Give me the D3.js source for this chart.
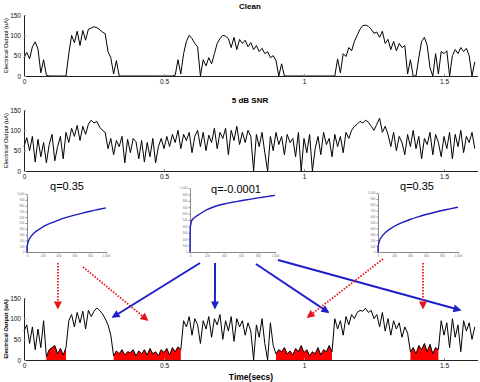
<!DOCTYPE html>
<html>
<head>
<meta charset="UTF-8">
<script src="https://d3js.org/d3.v7.min.js"></script>
<style>
body { margin: 0; background: #fff; }
text { font-family: Arial, "Liberation Sans", sans-serif; }
</style>
</head>
<body>
<svg id="canvas"></svg>
<script>

width = 480;
height = 382;

// one sample every 10 ms
dt = 0.01;

clean = [45,58,42,72,84,66,8,40,2,0, 0,0,0,0,0,0,55,100,82,110,
         75,112,88,115,118,121,119,114,108,104, 60,45,5,38,0,0,0,0,0,0,
         0,0,0,0,0,0,0,0,0,0, 0,0,0,0,2,40,5,55,85,100,
         92,80,72,0,40,25,45,30,55,80, 92,100,98,92,70,95,65,90,80,88,
         72,82,65,75,60,68,55,60,45,50, 38,0,30,0,0,0,0,0,0,0,
         0,0,0,0,0,0,0,0,0,0, 0,0,42,8,55,48,70,62,85,100,
         115,124,125,122,115,105,108,95,110,80, 90,65,85,62,80,70,75,5,40,0,
         0,45,85,95,75,20,0,55,5,60, 55,62,0,50,65,55,70,60,68,50,
         0,35];

noisy = [60,82,50,85,22,78,35,70,20,65, 90,25,60,85,30,95,70,105,85,112,
         75,110,90,115,125,118,122,108,100,95, 55,80,40,75,60,85,20,78,45,80,
         72,30,75,22,70,35,80,20,60,80, 55,85,60,90,70,100,55,90,75,95,
         45,85,100,60,95,50,88,70,105,55, 95,80,105,40,100,75,110,65,95,70,
         100,85,0,90,60,95,45,0,85,50, 95,65,85,40,90,70,80,35,95,0,
         80,45,90,0,55,85,40,95,65,80, 35,90,60,85,45,95,80,100,110,115,
         122,118,125,120,110,100,115,130,95,110, 90,60,95,50,85,70,40,90,60,100,
         55,85,30,80,65,95,40,90,70,35, 85,55,95,30,90,60,100,45,85,70,
         95,55];

enhanced = [70,85,40,80,25,75,30,95,8,25, 30,35,15,28,12,30,95,110,80,115,
            90,118,75,120,105,118,126,120,112,100, 85,60,10,22,15,25,12,20,18,25,
            10,22,15,25,12,28,15,20,10,25, 18,28,12,30,20,32,25,95,80,105,
            60,100,85,40,95,75,105,55,100,85, 110,50,95,70,105,45,100,80,95,60,
            90,70,0,85,55,100,40,0,90,35, 15,25,20,30,15,22,12,28,20,35,
            18,25,10,20,15,30,12,25,20,35, 20,100,75,95,60,105,85,110,100,115,
            120,118,125,115,120,100,110,80,115,70, 100,60,95,75,90,55,80,65,20,30,
            15,35,25,40,20,38,15,30,25,95, 60,90,30,100,55,85,20,95,70,90,
            50,80];

// stretches (secs) where the enhanced output was pushed down, shown in red
suppressed = [[0.08, 0.15], [0.32, 0.56], [0.90, 1.10], [1.38, 1.48]];

xTicks = [0, 0.5, 1, 1.5];
yTicks = [0, 50, 100, 150];

// compression curves, input 0..1000 -> output
curveIn = [0, 1, 5, 20, 50, 100, 200, 300, 400, 500, 600, 700, 800, 900, 1000];
q035 = [0, 68, 119, 193, 266, 339, 432, 498, 551, 596, 635, 670, 703, 732, 760];
q0001 = [0, 260, 400, 490, 535, 580, 661, 715, 750, 778, 800, 823, 845, 865, 885];
curveYTicks = d3.range(0, 1001, 100);
curveXTicks = d3.range(0, 1001, 200);

canvas = d3.select("#canvas")
    .attr("width", width)
    .attr("height", height);

x = d3.scaleLinear().domain([0, 1.62]).range([24, 477.6]);

panels = [
    {vals: clean, top: 15, bottom: 76, title: "Clean", titleY: 8.5, bold: false},
    {vals: noisy, top: 110, bottom: 171, title: "5 dB SNR", titleY: 102.5, bold: false},
    {vals: enhanced, top: 298, bottom: 360, title: null, bold: true, fills: suppressed}
];

panels.forEach(function(p) {
    y = d3.scaleLinear().domain([0, 150]).range([p.bottom, p.top]);
    p.y = y;
    g = canvas.append("g");

    if (p.fills) {
        p.fills.forEach(function(f) {
            i0 = Math.round(f[0] / dt);
            i1 = Math.round(f[1] / dt);
            seg = d3.range(i0, i1 + 1);
            g.append("path")
                .attr("d", d3.area()
                    .x(i => x(i * dt))
                    .y0(y(0))
                    .y1(i => y(p.vals[i]))(seg))
                .attr("fill", "#ff0000");
        });
    }

    g.append("path")
        .attr("d", d3.line().x((d, i) => x(i * dt)).y(d => y(d))(p.vals))
        .attr("fill", "none")
        .attr("stroke", "#000")
        .attr("stroke-width", 1);

    xa = g.append("g")
        .attr("transform", "translate(0," + p.bottom + ")")
        .call(d3.axisBottom(x).tickValues(xTicks).tickFormat(d3.format(""))
            .tickSize(-2).tickSizeOuter(0).tickPadding(3));
    ya = g.append("g")
        .attr("transform", "translate(24,0)")
        .call(d3.axisLeft(y).tickValues(yTicks).tickSize(-2).tickSizeOuter(0).tickPadding(3));
    [xa, ya].forEach(function(a) {
        a.select(".domain").attr("stroke", "#222");
        a.selectAll(".tick line").attr("stroke", "#999");
        a.selectAll("text").attr("font-size", 6.5).attr("fill", "#111")
            .attr("font-family", "Arial, 'Liberation Sans', sans-serif");
    });

    g.append("text")
        .attr("transform", "translate(8," + (p.top + p.bottom) / 2 + ") rotate(-90)")
        .attr("text-anchor", "middle")
        .attr("font-size", 5.8)
        .attr("font-weight", p.bold ? "bold" : "normal")
        .text("Electrical Output (uA)");

    if (p.title) {
        g.append("text")
            .attr("x", 250).attr("y", p.titleY)
            .attr("text-anchor", "middle")
            .attr("font-size", 8)
            .attr("font-weight", "bold")
            .text(p.title);
    }
});

canvas.append("text")
    .attr("x", 251).attr("y", 380)
    .attr("text-anchor", "middle")
    .attr("font-size", 8.5)
    .attr("font-weight", "bold")
    .text("Time(secs)");

// compression curve insets
small = [
    {vals: q035, label: "q=0.35", left: 27, right: 106, top: 194, bottom: 252, lx: 67, ly: 190},
    {vals: q0001, label: "q=-0.0001", left: 190, right: 275, top: 188, bottom: 252, lx: 236, ly: 193},
    {vals: q035, label: "q=0.35", left: 378, right: 458, top: 193, bottom: 252, lx: 417, ly: 189.5}
];

small.forEach(function(s) {
    s.x = d3.scaleLinear().domain([0, 1000]).range([s.left, s.right]);
    s.y = d3.scaleLinear().domain([0, 1000]).range([s.bottom, s.top]);
    g = canvas.append("g");
    xa = g.append("g").attr("transform", "translate(0," + s.bottom + ")")
        .call(d3.axisBottom(s.x).tickValues(curveXTicks).tickSize(1.5).tickSizeOuter(0).tickPadding(1));
    ya = g.append("g").attr("transform", "translate(" + s.left + ",0)")
        .call(d3.axisLeft(s.y).tickValues(curveYTicks).tickSize(1.5).tickSizeOuter(0).tickPadding(1));
    [xa, ya].forEach(function(a) {
        a.select(".domain").attr("stroke", "#888");
        a.selectAll(".tick line").attr("stroke", "#888");
        a.selectAll("text").attr("font-size", 3).attr("fill", "#777");
    });
    g.append("path")
        .attr("d", d3.line().curve(d3.curveMonotoneX)
            .x((d, i) => s.x(curveIn[i])).y(d => s.y(d))(s.vals))
        .attr("fill", "none")
        .attr("stroke", "#1c1cc0")
        .attr("stroke-width", 1.4);
    g.append("text")
        .attr("x", s.lx).attr("y", s.ly)
        .attr("text-anchor", "middle")
        .attr("font-size", 11)
        .text(s.label);
});

// arrows: start under an inset (input value, px below its axis), end at (secs, uA) on the bottom panel
colors = {blue: "#1f1fcc", red: "#e8141c"};
defs = canvas.append("defs");
Object.keys(colors).forEach(function(k) {
    defs.append("marker")
        .attr("id", "head-" + k)
        .attr("viewBox", "0 0 10 10")
        .attr("refX", 8).attr("refY", 5)
        .attr("markerWidth", 9).attr("markerHeight", 8)
        .attr("markerUnits", "userSpaceOnUse")
        .attr("orient", "auto")
        .append("path")
        .attr("d", "M0,0L10,5L0,10z")
        .attr("fill", colors[k]);
});

arrows = [
    {from: 0, at: 392, below: 11, t: 0.121, v: 126, c: "red"},
    {from: 0, at: 709, below: 15, t: 0.44, v: 97, c: "red"},
    {from: 1, at: 118, below: 11, t: 0.318, v: 104, c: "blue"},
    {from: 1, at: 294, below: 11, t: 0.682, v: 126, c: "blue"},
    {from: 1, at: 776, below: 12, t: 1.086, v: 116, c: "blue"},
    {from: 1, at: 1035, below: 8, t: 1.557, v: 121, c: "blue"},
    {from: 2, at: 62, below: 7, t: 1.014, v: 104, c: "red"},
    {from: 2, at: 562, below: 11, t: 1.425, v: 126, c: "red"}
];

yb = panels[2].y;
arrows.forEach(function(a) {
    s = small[a.from];
    canvas.append("line")
        .attr("x1", s.x(a.at)).attr("y1", s.bottom + a.below)
        .attr("x2", x(a.t)).attr("y2", yb(a.v))
        .attr("stroke", colors[a.c])
        .attr("stroke-width", a.c == "red" ? 1.8 : 2)
        .attr("stroke-dasharray", a.c == "red" ? "1.5,1.5" : null)
        .attr("marker-end", "url(#head-" + a.c + ")");
});

</script>
</body>
</html>
